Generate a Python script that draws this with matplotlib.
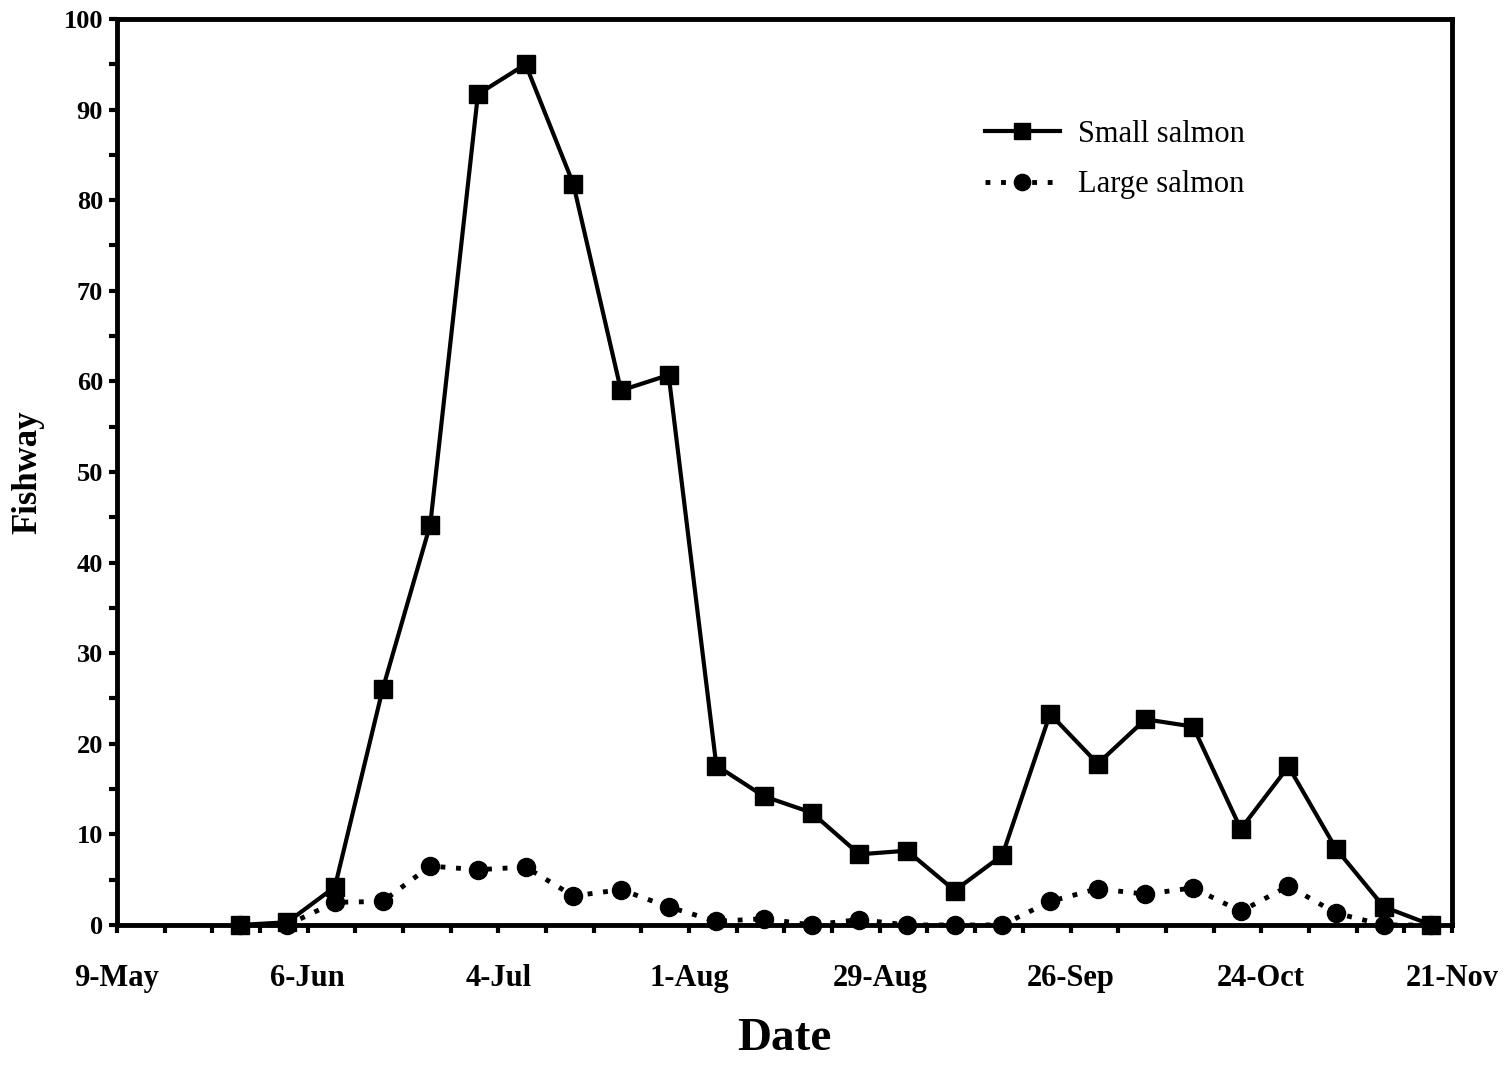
import numpy as np
import matplotlib
matplotlib.use("Agg")
import matplotlib.pyplot as plt

# weekly sample dates
dates = np.arange(np.datetime64("1995-05-27"), np.datetime64("1995-11-19"), np.timedelta64(7, "D"))

small = [0, 0.3, 4.2, 26, 44.2, 91.7, 95, 81.8, 59, 60.7, 17.6, 14.2, 12.4,
         7.8, 8.2, 3.8, 7.7, 23.3, 17.8, 22.7, 21.9, 10.6, 17.5, 8.4, 2.0, 0]
large = [0, 0, 2.5, 2.6, 6.5, 6.1, 6.4, 3.2, 3.9, 2.0, 0.4, 0.7, 0,
         0.6, 0, 0, 0, 2.6, 4.0, 3.4, 4.1, 1.5, 4.3, 1.3, 0, 0]

tick_labels = ["9-May", "6-Jun", "4-Jul", "1-Aug", "29-Aug", "26-Sep", "24-Oct", "21-Nov"]

plt.rcParams["font.family"] = ["Liberation Serif", "DejaVu Serif"]

fig = plt.figure(figsize=(15.11, 10.67), dpi=100)
ax = fig.add_axes([0.0774, 0.1331, 0.8835, 0.8491])

ax.plot(dates, small, color="black", lw=3, marker="s", ms=13, clip_on=False,
        label="Small salmon", zorder=3)
ax.plot(dates, large, color="black", lw=3.5, ls=(0, (1, 2.2)), marker="o", ms=13,
        clip_on=False, label="Large salmon", zorder=3)

start = np.datetime64("1995-05-09")
end = np.datetime64("1995-11-21")
ax.set_xlim(start, end)
ax.set_ylim(0, 100)

major = np.arange(start, end + np.timedelta64(1, "D"), np.timedelta64(28, "D"))
minor = np.arange(start, end + np.timedelta64(1, "D"), np.timedelta64(7, "D"))
ax.set_xticks(major)
ax.set_xticklabels(tick_labels)
ax.set_xticks(minor, minor=True)
ax.set_yticks(np.arange(0, 101, 10))
ax.set_yticks(np.arange(0, 101, 5), minor=True)

for s in ax.spines.values():
    s.set_linewidth(3.5)

ax.tick_params(axis="both", which="both", direction="out", length=6, width=3)
ax.tick_params(axis="x", which="major", labelsize=22, pad=22)
ax.tick_params(axis="y", which="major", labelsize=19, pad=4)
for lab in ax.get_xticklabels() + ax.get_yticklabels():
    lab.set_fontweight("bold")

ax.set_xlabel("Date", fontsize=34, fontweight="bold", labelpad=18)
ax.set_ylabel("Fishway", fontsize=25, fontweight="bold", labelpad=14)

ax.legend(loc="upper left", bbox_to_anchor=(985 / 1511, 1 - 120 / 1067),
          bbox_transform=fig.transFigure, frameon=False, fontsize=22,
          borderpad=0, borderaxespad=0, handlelength=2.45, handletextpad=0.6,
          labelspacing=0.7, markerscale=0.9)

fig.savefig("out.png", dpi=100)
